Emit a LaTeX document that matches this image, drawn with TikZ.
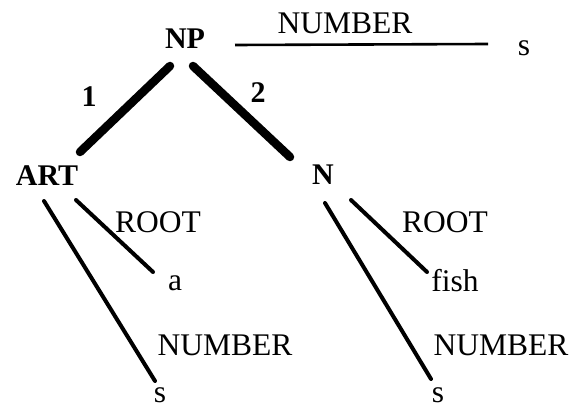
\documentclass[tikz,border=0pt]{standalone}
\usepackage{fontspec}
\setmainfont{Liberation Serif}
\begin{document}
\begin{tikzpicture}[x=1pt,y=-1pt,
  cat/.style={inner sep=0pt,font=\fontsize{30}{31}\selectfont\bfseries},
  lab/.style={inner sep=0pt,font=\fontsize{31.5}{32}\selectfont},
  thick edge/.style={line width=8.5pt,line cap=round},
  thin edge/.style={line width=4pt,line cap=round},
  flat edge/.style={line width=2.6pt}]
\fill[white] (0,0) rectangle (570,409);
\useasboundingbox (0,0) rectangle (570,409);
% nodes
\node[cat] (NP) at (185,39) {NP};
\node[cat] (ART) at (47,176) {ART};
\node[cat] (N) at (323,175) {N};
\node[cat] (one) at (89,97) {1};
\node[cat] (two) at (258,93) {2};
\node[lab] (numtop) at (345,23) {NUMBER};
\node[lab] (stop) at (524,48) {s};
\node[lab] (rootL) at (158,222) {ROOT};
\node[lab] (a) at (175,283) {a};
\node[lab] (numL) at (225,345) {NUMBER};
\node[lab] (sL) at (160,395) {s};
\node[lab] (rootR) at (445,222) {ROOT};
\node[lab] (fish) at (455,281) {fish};
\node[lab] (numR) at (501,345) {NUMBER};
\node[lab] (sR) at (438,395) {s};
% connector ends
\coordinate (np1) at (170,66);
\coordinate (art1) at (80,152);
\coordinate (np2) at (193,66);
\coordinate (n2) at (290,157);
\coordinate (npR) at (235,45);
\coordinate (sE) at (488,44);
\coordinate (artA) at (76,200);
\coordinate (aE) at (153,272);
\coordinate (artB) at (44,201);
\coordinate (sLE) at (155,381);
\coordinate (nA) at (351,200);
\coordinate (fE) at (427,272);
\coordinate (nB) at (325,203);
\coordinate (sRE) at (431,379);
% connectors
\draw[thick edge] (np1) -- (art1);
\draw[thick edge] (np2) -- (n2);
\draw[flat edge] (npR) -- (sE);
\draw[thin edge] (artA) -- (aE);
\draw[thin edge] (artB) -- (sLE);
\draw[thin edge] (nA) -- (fE);
\draw[thin edge] (nB) -- (sRE);
\end{tikzpicture}
\end{document}
